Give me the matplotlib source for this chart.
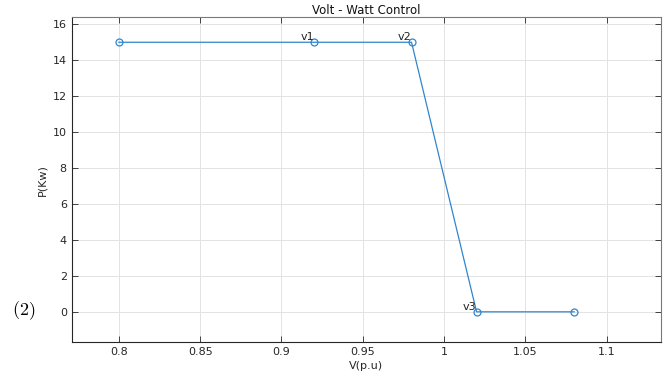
import matplotlib
matplotlib.use("Agg")
import matplotlib.pyplot as plt

v = [0.8, 0.92, 0.98, 1.02, 1.08]
p = [15, 15, 15, 0, 0]
labels = {"v1": (0.92, 15), "v2": (0.98, 15), "v3": (1.02, 0)}
xticks = [0.8, 0.85, 0.9, 0.95, 1.0, 1.05, 1.1]
xticklabels = ["0.8", "0.85", "0.9", "0.95", "1", "1.05", "1.1"]
yticks = [0, 2, 4, 6, 8, 10, 12, 14, 16]

fig = plt.figure(figsize=(6.7, 3.8), dpi=100)
ax = fig.add_axes([0.107, 0.099, 0.8795, 0.856])
color = "#2f86cf"
ax.plot(v, p, color=color, lw=0.9, marker="o", mfc="none", mec=color, ms=5, mew=0.9)
for name, (x, y) in labels.items():
    ax.text(x, y, name, ha="right", va="bottom", fontsize=8, color="#222222")

ax.set_xlim(0.771, 1.1334)
ax.set_ylim(-1.7, 16.4)
ax.set_xticks(xticks)
ax.set_xticklabels(xticklabels)
ax.set_yticks(yticks)
ax.grid(True, color="#e3e3e3", lw=0.7)
ax.set_axisbelow(True)
ax.tick_params(labelsize=8, colors="#262626", direction="in", top=True, right=True, length=4, width=0.6)
for s in ["left", "bottom"]:
    ax.spines[s].set_color("#262626")
    ax.spines[s].set_linewidth(0.8)
for s in ["top", "right"]:
    ax.spines[s].set_color("#7a7a7a")
    ax.spines[s].set_linewidth(0.8)
ax.set_xlabel("V(p.u)", fontsize=8, color="#262626", labelpad=3)
ax.set_ylabel("P(Kw)", fontsize=8, color="#262626", labelpad=4)
ax.set_title("Volt - Watt Control", fontsize=8.5, color="#111111", pad=2)
plt.rcParams["mathtext.fontset"] = "cm"
fig.text(0.018, 0.182, r"$\mathrm{(2)}$", fontsize=13, va="center", ha="left")
fig.savefig("out.png", dpi=100, facecolor="white")
